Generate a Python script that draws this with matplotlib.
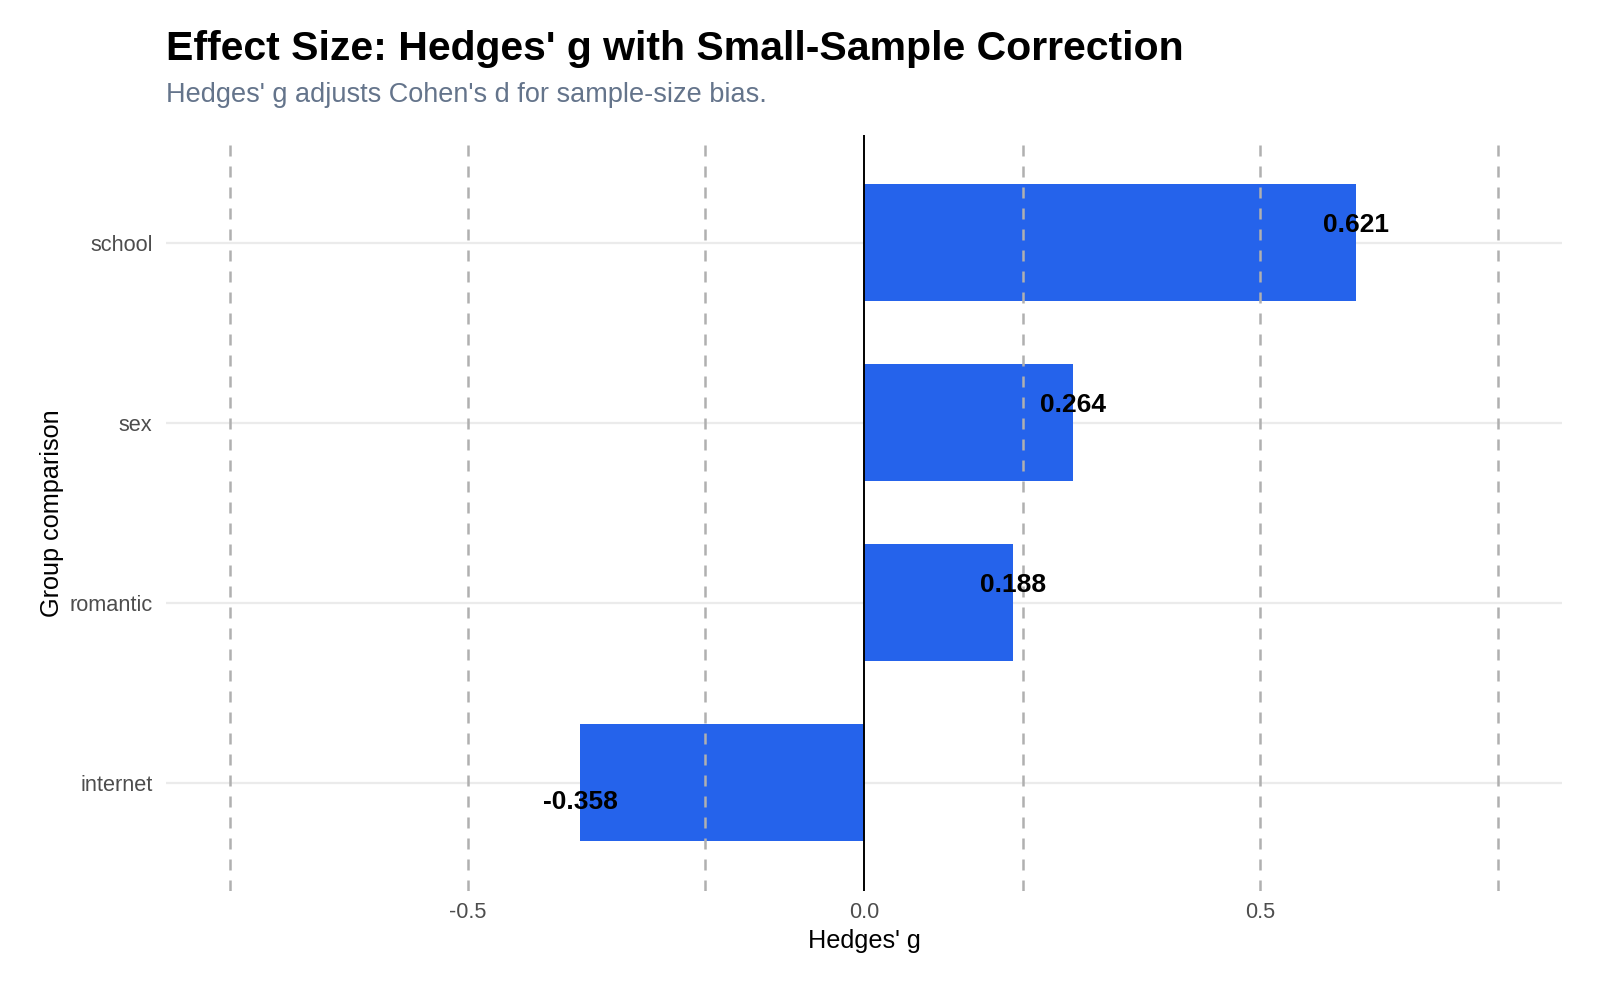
import matplotlib
matplotlib.use('Agg')
import matplotlib.pyplot as plt

# effect sizes, bottom to top
groups = ['internet', 'romantic', 'sex', 'school']
hedges_g = [-0.358, 0.188, 0.264, 0.621]

# Cohen's thresholds (small / medium / large)
thresholds = [-0.8, -0.5, -0.2, 0.2, 0.5, 0.8]
x_ticks = [-0.5, 0.0, 0.5]

TITLE = "Effect Size: Hedges' g with Small-Sample Correction"
SUBTITLE = "Hedges' g adjusts Cohen's d for sample-size bias."

plt.rcParams['font.family'] = ['Liberation Sans', 'DejaVu Sans']

fig = plt.figure(figsize=(16, 9.84), dpi=100)
ax = fig.add_axes([0.104, 0.0945, 0.872, 0.7685])

ypos = list(range(len(groups)))

# horizontal grid lines at categories
for y in ypos:
    ax.axhline(y, color='#ebebeb', lw=1.6, zorder=0)

ax.barh(ypos, hedges_g, height=0.65, color='#2563EB', zorder=2)

for t in thresholds:
    ax.axvline(t, color='#b0b0b0', lw=1.8, linestyle=(0, (4.4, 4.0)), zorder=3)
ax.axvline(0, color='black', lw=1.4, zorder=3)

for y, v in zip(ypos, hedges_g):
    off = 7.7 if v >= 0 else -18.4
    ax.annotate(f'{v:.3f}', xy=(v, y), xytext=(0, off), textcoords='offset points',
                ha='center', va='baseline', fontsize=19, fontweight='bold',
                color='black', zorder=4)

ax.set_xlim(-0.88, 0.88)
ax.set_ylim(-0.6, len(groups) - 0.4)
ax.set_xticks(x_ticks)
ax.set_xticklabels([f'{t:.1f}' for t in x_ticks])
ax.set_yticks(ypos)
ax.set_yticklabels(groups)
ax.tick_params(axis='both', length=0, labelsize=15.7, labelcolor='#4d4d4d')
ax.tick_params(axis='y', pad=10)
ax.tick_params(axis='x', pad=8)
for s in ax.spines.values():
    s.set_visible(False)

ax.set_xlabel("Hedges' g", fontsize=18.2, labelpad=4)
ax.set_ylabel('Group comparison', fontsize=18.2, labelpad=4)

fig.text(0.104, 0.939, TITLE, fontsize=29.5, fontweight='bold', ha='left', va='baseline')
fig.text(0.104, 0.896, SUBTITLE, fontsize=19.5, color='#64748B', ha='left', va='baseline')

fig.savefig('out.png', dpi=100)
